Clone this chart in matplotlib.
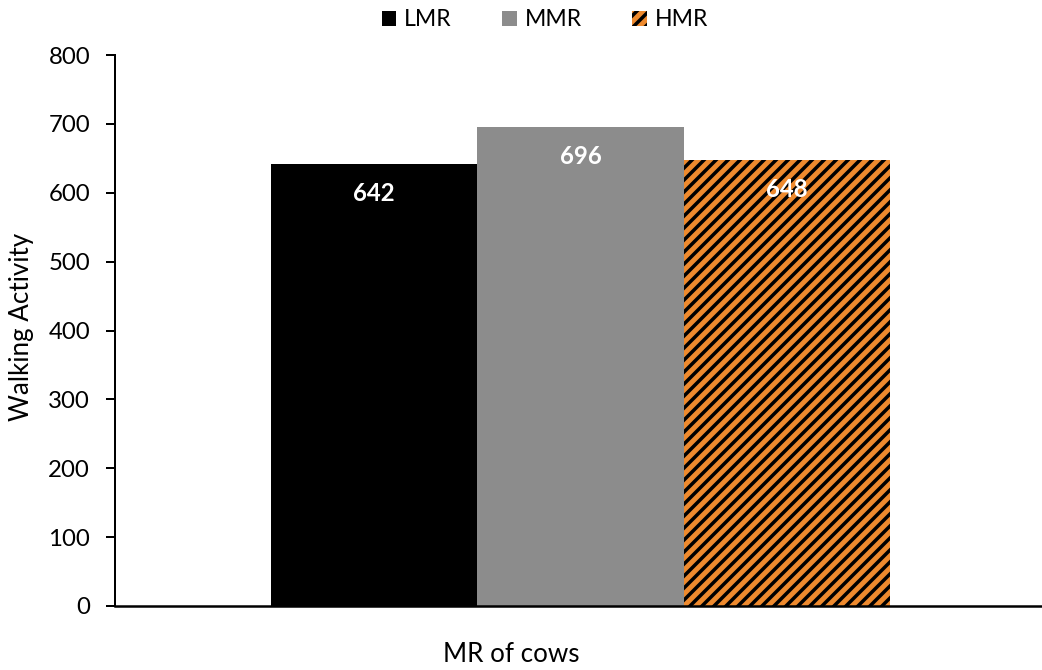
import matplotlib
matplotlib.use("Agg")
import matplotlib.pyplot as plt
from matplotlib.patches import Patch

plt.rcParams['font.family'] = ['Lato', 'DejaVu Sans']
plt.rcParams['hatch.linewidth'] = 3.5

groups = ["LMR", "MMR", "HMR"]
values = [642, 696, 648]
colors = ["#000000", "#8C8C8C", "#EE8A2E"]
hatches = [None, None, "//"]
yticks = [0, 100, 200, 300, 400, 500, 600, 700, 800]

DPI = 72
fig = plt.figure(figsize=(1042 / DPI, 670 / DPI), dpi=DPI)
ax = fig.add_axes([115 / 1042, 1 - 606 / 670, 1 - 115 / 1042, (606 - 55) / 670])

width = 0.2
offsets = [-width, 0.0, width]
for name, val, col, h, off in zip(groups, values, colors, hatches, offsets):
    if h:
        ax.bar(off, val, width=width, color=col, edgecolor="black", linewidth=0, hatch=h)
    else:
        ax.bar(off, val, width=width, color=col, linewidth=0)
    ax.text(off, val - 43, str(val), ha="center", va="center", color="white",
            fontsize=24, fontweight="bold")

ax.set_xlim(-0.4506, 0.4467)
ax.set_ylim(0, 800)
ax.set_yticks(yticks)
ax.set_xticks([])
ax.tick_params(axis="y", direction="out", length=9, width=2, labelsize=24, pad=16)
for s in ["top", "right"]:
    ax.spines[s].set_visible(False)
ax.spines["left"].set_linewidth(2)
ax.spines["bottom"].set_linewidth(2.5)

fig.text(22 / 1042, 1 - 327 / 670, "Walking Activity", rotation=90, ha="center",
         va="center", fontsize=26)
fig.text(511 / 1042, 1 - 655 / 670, "MR of cows", ha="center", va="center", fontsize=26)

handles = [Patch(facecolor=c, edgecolor="black" if h else c, linewidth=0, hatch=h)
           for c, h in zip(colors, hatches)]
fig.legend(handles, groups, loc="center", bbox_to_anchor=(545 / 1042, 1 - 20 / 670), ncol=3,
           frameon=False, fontsize=23, handlelength=0.62, handleheight=0.62,
           handletextpad=0.35, columnspacing=2.2)

fig.savefig("out.png", dpi=DPI)
